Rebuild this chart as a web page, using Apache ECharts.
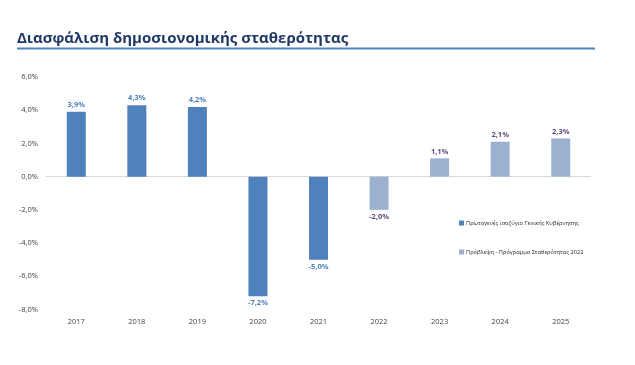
<!DOCTYPE html>
<html><head><meta charset="utf-8">
<script src="https://cdn.jsdelivr.net/npm/echarts@6/dist/echarts.min.js"></script>
<style>html,body{margin:0;padding:0;background:#fff}#c{width:635px;height:365px}</style>
</head><body><div id="c"></div>
<script>
const categories = ['2017','2018','2019','2020','2021','2022','2023','2024','2025'];
const actualValues = [3.9, 4.3, 4.2, -7.2, -5.0, null, null, null, null];
const forecastValues = [null, null, null, null, null, -2.0, 1.1, 2.1, 2.3];
const yTicks = [-8, -6, -4, -2, 0, 2, 4, 6];
const titleText = 'Διασφάλιση δημοσιονομικής σταθερότητας';
const seriesNames = ['Πρωτογενές ισοζύγιο Γενικής Κυβέρνησης', 'Πρόβλεψη - Πρόγραμμα Σταθερότητας 2022'];

const fmt = v => v.toFixed(1).replace('.', ',') + '%';
const toItems = arr => arr.map(v => v == null ? null : ({value: v, label: {position: v < 0 ? 'bottom' : 'top'}}));

const chart = echarts.init(document.getElementById('c'), null, {renderer: 'canvas'});
chart.setOption({
  animation: false,
  backgroundColor: '#fff',
  title: {
    text: titleText, left: 12, top: 26,
    textStyle: {fontFamily: 'Open Sans', fontSize: 15, fontWeight: 'bold', color: '#1f3864'}
  },
  graphic: [{type: 'line', shape: {x1: 17, y1: 48.5, x2: 595, y2: 48.5}, style: {stroke: '#4f81bd', lineWidth: 2}}],
  legend: {
    orient: 'vertical', left: 454, top: 215, itemGap: 23,
    itemWidth: 5, itemHeight: 5, icon: 'rect',
    textStyle: {fontFamily: 'Open Sans', fontSize: 5.7, color: '#262626', padding: [0,0,0,-3]},
    data: seriesNames
  },
  grid: {left: 46, right: 44, top: 77, bottom: 55.5, containLabel: false},
  xAxis: {
    type: 'category', data: categories,
    axisLine: {show: false}, axisTick: {show: false},
    axisLabel: {margin: 8, fontFamily: 'Open Sans', fontSize: 7.5, color: '#404040'}
  },
  yAxis: {
    type: 'value', min: -8, max: 6, interval: 2,
    splitLine: {show: false}, axisLine: {show: false}, axisTick: {show: false},
    axisLabel: {margin: 8, fontFamily: 'Open Sans', fontSize: 7.5, color: '#404040',
      formatter: v => yTicks.includes(v) ? fmt(v) : ''}
  },
  series: [
    {
      name: seriesNames[0], type: 'bar', data: toItems(actualValues), barWidth: 19, barGap: '-100%',
      itemStyle: {color: '#4f81bd'},
      label: {show: true, distance: 3, formatter: p => fmt(p.value), fontFamily: 'Open Sans', fontSize: 7.5, fontWeight: 'bold', color: '#4f81bd'},
      markLine: {silent: true, symbol: 'none', label: {show: false}, lineStyle: {color: '#d9d9d9', width: 1, type: 'solid'}, data: [{yAxis: 0}], z: 1}
    },
    {
      name: seriesNames[1], type: 'bar', data: toItems(forecastValues), barWidth: 19,
      itemStyle: {color: '#9bb1cf'},
      label: {show: true, distance: 3, formatter: p => fmt(p.value), fontFamily: 'Open Sans', fontSize: 7.5, fontWeight: 'bold', color: '#604a7b'}
    }
  ]
});
</script></body></html>
